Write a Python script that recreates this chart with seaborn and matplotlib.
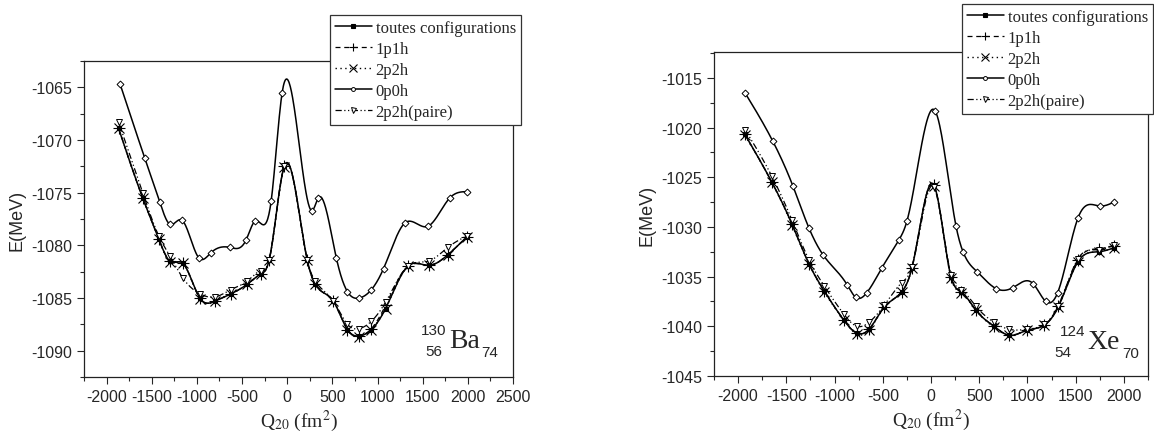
import numpy as np
import matplotlib
matplotlib.use("Agg")
import matplotlib.pyplot as plt
import seaborn as sns
from matplotlib.lines import Line2D
from matplotlib.ticker import MultipleLocator

sns.set_style("ticks")
plt.rcParams['font.family'] = ['Liberation Sans', 'DejaVu Sans']
plt.rcParams['axes.unicode_minus'] = False
plt.rcParams['mathtext.fontset'] = 'stix'

# ---- 130Ba (panneau gauche) ----
ba_q_0p0h = [-1850, -1578, -1411, -1300, -1167, -978, -844, -633, -456, -356, -178, -56,
             278, 344, 544, 667, 800, 933, 1067, 1300, 1556, 1800, 1989]
ba_e_0p0h = [-1064.7, -1071.7, -1075.9, -1078.0, -1077.6, -1081.2, -1080.7, -1080.2, -1079.5,
             -1077.7, -1075.8, -1065.5, -1076.7, -1075.5, -1081.2, -1084.4, -1085.0, -1084.2,
             -1082.2, -1077.9, -1078.2, -1075.5, -1074.9]

ba_q = [-1867, -1600, -1422, -1300, -1156, -967, -800, -622, -444, -289, -200, -33,
        222, 311, 511, 667, 800, 933, 1089, 1333, 1567, 1778, 1989]
ba_e_toutes = [-1068.9, -1075.5, -1079.4, -1081.5, -1081.7, -1085.0, -1085.3, -1084.6, -1083.7,
               -1082.7, -1081.4, -1072.5, -1081.4, -1083.7, -1085.3, -1088.0, -1088.6, -1088.0,
               -1086.0, -1082.0, -1081.9, -1080.9, -1079.2]
ba_e_1p1h = [-1068.9, -1075.5, -1079.4, -1081.5, -1081.7, -1085.0, -1085.3, -1084.6, -1083.7,
             -1082.7, -1081.4, -1072.5, -1081.4, -1083.7, -1085.3, -1088.0, -1088.6, -1087.9,
             -1085.7, -1082.0, -1081.9, -1080.9, -1079.2]
ba_e_2p2h = [-1068.9, -1075.5, -1079.4, -1081.6, -1081.7, -1085.1, -1085.3, -1084.6, -1083.7,
             -1082.7, -1081.4, -1072.6, -1081.4, -1083.7, -1085.3, -1088.0, -1088.7, -1088.0,
             -1086.0, -1082.0, -1081.9, -1080.9, -1079.2]
ba_e_paire = [-1068.3, -1075.0, -1079.1, -1081.0, -1083.1, -1084.6, -1084.9, -1084.2, -1083.4,
              -1082.4, -1081.4, -1072.5, -1081.4, -1083.4, -1085.3, -1087.5, -1087.9, -1087.2,
              -1085.4, -1082.0, -1081.5, -1080.2, -1079.1]

# ---- 124Xe (panneau droit) ----
xe_q_0p0h = [-1929, -1639, -1431, -1266, -1120, -871, -778, -664, -508, -332, -249, 41,
             259, 332, 477, 674, 851, 1058, 1190, 1314, 1524, 1753, 1898]
xe_e_0p0h = [-1016.5, -1021.4, -1025.9, -1030.1, -1032.8, -1035.8, -1037.1, -1036.6, -1034.1,
             -1031.3, -1029.4, -1018.3, -1029.9, -1032.5, -1034.5, -1036.2, -1036.1, -1035.7,
             -1037.5, -1036.6, -1029.1, -1027.9, -1027.5]

xe_q = [-1929, -1650, -1442, -1266, -1110, -902, -768, -643, -487, -301, -197, 31,
        207, 311, 467, 653, 809, 996, 1172, 1317, 1524, 1743, 1898]
xe_e_toutes = [-1020.7, -1025.5, -1029.7, -1033.7, -1036.4, -1039.4, -1040.7, -1040.3, -1038.1,
               -1036.5, -1034.1, -1025.8, -1035.0, -1036.5, -1038.4, -1040.0, -1040.9, -1040.4,
               -1039.9, -1038.1, -1033.5, -1032.5, -1032.1]
xe_e_1p1h = [-1020.7, -1025.5, -1029.7, -1033.7, -1036.4, -1039.4, -1040.7, -1040.3, -1038.1,
             -1036.5, -1034.1, -1025.8, -1035.0, -1036.5, -1038.4, -1040.0, -1040.9, -1040.4,
             -1039.9, -1038.0, -1033.3, -1032.2, -1031.9]
xe_e_2p2h = [-1020.8, -1025.5, -1029.8, -1033.7, -1036.5, -1039.4, -1040.8, -1040.4, -1038.1,
             -1036.5, -1034.1, -1025.9, -1035.1, -1036.6, -1038.4, -1040.1, -1040.9, -1040.4,
             -1039.9, -1038.1, -1033.5, -1032.5, -1032.1]
xe_e_paire = [-1020.2, -1024.9, -1029.3, -1033.3, -1035.9, -1038.8, -1040.0, -1039.6, -1037.9,
              -1035.6, -1034.0, -1026.0, -1034.8, -1036.3, -1038.0, -1039.6, -1040.3, -1040.3,
              -1039.8, -1038.0, -1033.2, -1032.3, -1031.8]

LABELS = ['toutes configurations', '1p1h', '2p2h', '0p0h', '2p2h(paire)']


def spline(x, y, n=600):
    """Spline cubique naturelle (pour le tracé lissé façon Origin)."""
    x = np.asarray(x, float)
    y = np.asarray(y, float)
    m = len(x)
    h = np.diff(x)
    A = np.zeros((m, m))
    b = np.zeros(m)
    A[0, 0] = A[-1, -1] = 1
    for i in range(1, m - 1):
        A[i, i - 1] = h[i - 1]
        A[i, i] = 2 * (h[i - 1] + h[i])
        A[i, i + 1] = h[i]
        b[i] = 6 * ((y[i + 1] - y[i]) / h[i] - (y[i] - y[i - 1]) / h[i - 1])
    M = np.linalg.solve(A, b)
    xs = np.linspace(x[0], x[-1], n)
    k = np.clip(np.searchsorted(x, xs) - 1, 0, m - 2)
    t0 = x[k + 1] - xs
    t1 = xs - x[k]
    hk = h[k]
    ys = (M[k] * t0**3 / (6 * hk) + M[k + 1] * t1**3 / (6 * hk)
          + (y[k] / hk - M[k] * hk / 6) * t0 + (y[k + 1] / hk - M[k + 1] * hk / 6) * t1)
    return xs, ys


STYLES = [
    dict(ls='-', marker='s', ms=3.5, mfc='black', mew=0.8, lw=1.1),
    dict(ls=(0, (4, 3)), marker='+', ms=8, mfc='black', mew=0.8, lw=0.9),
    dict(ls=(0, (1, 2.5)), marker='x', ms=7, mfc='black', mew=0.8, lw=1.0),
    dict(ls='-', marker='D', ms=3.5, mfc='white', mew=0.7, lw=1.1),
    dict(ls=(0, (5, 2, 1, 2, 1, 2)), marker='v', ms=4.5, mfc='white', mew=0.7, lw=0.9),
]


def draw_panel(ax, q0, e0, q, series, xlim, ylim, xmaj):
    curves = [(q, series[0]), (q, series[1]), (q, series[2]), (q0, e0), (q, series[3])]
    for (xq, ye), st in zip(curves, STYLES):
        xs, ys = spline(xq, ye)
        sns.lineplot(x=xs, y=ys, ax=ax, color='black', lw=st['lw'], linestyle=st['ls'],
                     sort=False, estimator=None)
        ax.plot(xq, ye, ls='none', marker=st['marker'], ms=st['ms'], mfc=st['mfc'],
                mec='black', mew=st['mew'], color='black')
    ax.set_xlim(*xlim)
    ax.set_ylim(*ylim)
    ax.xaxis.set_major_locator(MultipleLocator(xmaj))
    ax.xaxis.set_minor_locator(MultipleLocator(250))
    ax.yaxis.set_major_locator(MultipleLocator(5))
    ax.yaxis.set_minor_locator(MultipleLocator(2.5))
    ax.tick_params(which='major', direction='out', length=5, width=0.8, labelsize=11.5,
                   top=False, right=False)
    ax.tick_params(which='minor', direction='out', length=3, width=0.8, top=False, right=False)
    for s in ax.spines.values():
        s.set_visible(True)
        s.set_linewidth(0.9)
        s.set_color('#222222')
    ax.set_xlabel('Q$_{20}$ (fm$^2$)', family='Liberation Serif', fontsize=14, labelpad=3)
    ax.set_ylabel('E(MeV)', fontsize=13, labelpad=4)
    ax.grid(False)


def add_legend(fig, x, y):
    handles = [Line2D([], [], color='black', linestyle=st['ls'], lw=st['lw'],
                      marker=st['marker'], ms=st['ms'] * 0.8, mfc=st['mfc'], mec='black',
                      mew=st['mew'])
               for st in STYLES]
    handles[3].set_marker('o')
    leg = fig.legend(handles, LABELS, loc='upper right', bbox_to_anchor=(x, y),
                     bbox_transform=fig.transFigure, frameon=True, fancybox=False,
                     prop={'family': 'Liberation Serif', 'size': 12}, handlelength=2.2,
                     handletextpad=0.25, labelspacing=0.3, borderpad=0.3, borderaxespad=0)
    leg.get_frame().set_edgecolor('#333333')
    leg.get_frame().set_linewidth(0.9)
    leg.get_frame().set_alpha(1)


fig = plt.figure(figsize=(11.54, 4.35), dpi=100)
ax1 = fig.add_axes([84 / 1154, 1 - 378 / 435, 429 / 1154, 316 / 435])
ax2 = fig.add_axes([714 / 1154, 1 - 377 / 435, 434 / 1154, 324 / 435])

draw_panel(ax1, ba_q_0p0h, ba_e_0p0h, ba_q,
           [ba_e_toutes, ba_e_1p1h, ba_e_2p2h, ba_e_paire],
           (-2250, 2500), (-1092.5, -1062.5), 500)
draw_panel(ax2, xe_q_0p0h, xe_e_0p0h, xe_q,
           [xe_e_toutes, xe_e_1p1h, xe_e_2p2h, xe_e_paire],
           (-2250, 2250), (-1045, -1012.4), 500)

# noyaux
ax1.text(1620, -1088.0, '130', fontsize=11, ha='center', va='center')
ax1.text(1620, -1090.0, '56', fontsize=11, ha='center', va='center')
ax1.text(1790, -1089.0, 'Ba', family='Liberation Serif', fontsize=20, ha='left', va='center')
ax1.text(2244, -1090.1, '74', fontsize=11, ha='center', va='center')

ax2.text(1473, -1040.5, '124', fontsize=11, ha='center', va='center')
ax2.text(1369, -1042.6, '54', fontsize=11, ha='center', va='center')
ax2.text(1620, -1041.5, 'Xe', family='Liberation Serif', fontsize=20, ha='left', va='center')
ax2.text(2075, -1042.7, '70', fontsize=11, ha='center', va='center')

add_legend(fig, 521 / 1154, 1 - 16 / 435)
add_legend(fig, 1153 / 1154, 1 - 5 / 435)

fig.savefig('out.png', dpi=100)
